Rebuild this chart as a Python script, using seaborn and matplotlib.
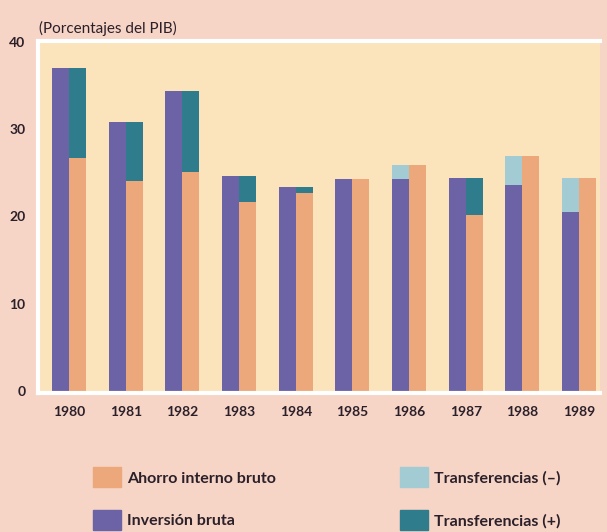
import matplotlib
matplotlib.use("Agg")
import numpy as np
import pandas as pd
import matplotlib.pyplot as plt
import seaborn as sns
from matplotlib.patches import Patch

# values (porcentajes del PIB)
years = ["1980", "1981", "1982", "1983", "1984", "1985", "1986", "1987", "1988", "1989"]
inversion = [37.0, 30.8, 34.4, 24.6, 23.4, 24.3, 24.3, 24.4, 23.6, 20.5]
ahorro = [26.7, 24.0, 25.1, 21.7, 22.7, 24.3, 25.9, 20.2, 26.9, 24.4]
legend_left = ["Ahorro interno bruto", "Inversión bruta"]
legend_right = ["Transferencias (–)", "Transferencias (+)"]

c_bg = "#f6d4c6"
c_panel = "#fbe3bb"
c_inv = "#6b63a6"
c_aho = "#eca77a"
c_tneg = "#a2cbd3"
c_tpos = "#2f7c8c"
c_text = "#2b2029"

sns.set_theme(style="white")
plt.rcParams["font.family"] = ["Lato", "DejaVu Sans"]

df = pd.DataFrame({
    "year": years * 2,
    "value": inversion + ahorro,
    "serie": ["inv"] * len(years) + ["aho"] * len(years),
})

fig = plt.figure(figsize=(6.07, 5.32), dpi=100, facecolor=c_bg)
ax = fig.add_axes([38 / 607, 1 - 393 / 532, 562 / 607, 352 / 532])
ax.set_facecolor(c_panel)

sns.barplot(data=df, x="year", y="value", hue="serie", hue_order=["inv", "aho"],
            palette={"inv": c_inv, "aho": c_aho}, width=0.6, saturation=1,
            linewidth=0, errorbar=None, legend=False, ax=ax)

# transfer blocks: (+) over ahorro column, (-) over inversion column
inv = np.array(inversion)
aho = np.array(ahorro)
x = np.arange(len(years))
pos = inv > aho
neg = aho > inv
ax.bar(x[pos] + 0.15, (inv - aho)[pos], bottom=aho[pos], width=0.3,
       color=c_tpos, linewidth=0)
ax.bar(x[neg] - 0.15, (aho - inv)[neg], bottom=inv[neg], width=0.3,
       color=c_tneg, linewidth=0)

ax.set_xlim(-0.55, 9.37)
ax.set_ylim(-0.25, 40.1)
ax.set_yticks([0, 10, 20, 30, 40])
ax.set_xlabel("")
ax.set_ylabel("")
ax.tick_params(axis="both", length=0, labelsize=10, colors=c_text)
ax.tick_params(axis="y", pad=9)
ax.tick_params(axis="x", pad=9)
for lab in ax.get_xticklabels() + ax.get_yticklabels():
    lab.set_fontweight("bold")
for side in ["left", "top", "bottom"]:
    ax.spines[side].set_color("white")
    ax.spines[side].set_linewidth(3)
ax.spines["right"].set_visible(False)

fig.text(39 / 607, 1 - 28 / 532, "(Porcentajes del PIB)", fontsize=11,
         color=c_text, va="center", ha="left")

leg_kw = dict(frameon=False, loc="upper left", handlelength=1.7, handleheight=1.56,
              handletextpad=0.4, labelspacing=1.4, borderpad=0.4,
              prop={"size": 11.5, "weight": "bold"})
leg1 = fig.legend([Patch(color=c_aho), Patch(color=c_inv)], legend_left,
                  bbox_to_anchor=(79 / 607, 1 - 453 / 532), **leg_kw)
leg2 = fig.legend([Patch(color=c_tneg), Patch(color=c_tpos)], legend_right,
                  bbox_to_anchor=(386 / 607, 1 - 453 / 532), **leg_kw)
for leg in (leg1, leg2):
    for t in leg.get_texts():
        t.set_color(c_text)

fig.savefig("out.png", dpi=100, facecolor=c_bg)
